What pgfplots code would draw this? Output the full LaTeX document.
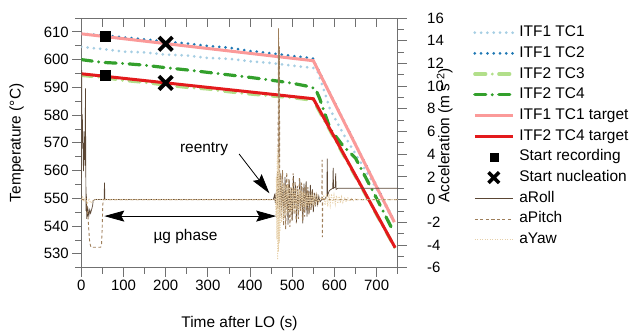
\documentclass[border=0pt]{standalone}
\usepackage{fontspec}
\setmainfont{Liberation Sans}
\usepackage{pgfplots}
\pgfplotsset{compat=1.18}
\usetikzlibrary{arrows.meta}
\definecolor{lblue}{HTML}{A6CEE3}
\definecolor{dblue}{HTML}{1F78B4}
\definecolor{lgreen}{HTML}{B2DF8A}
\definecolor{dgreen}{HTML}{33A02C}
\definecolor{lpink}{HTML}{FB9A99}
\definecolor{dred}{HTML}{E31A1C}
\definecolor{roll}{HTML}{5B4634}
\definecolor{pitch}{HTML}{9E7E5A}
\definecolor{yaw}{HTML}{E6CFA8}
\definecolor{axisgray}{HTML}{707070}
\tikzset{
  dotline/.style={line width=3bp, dash pattern=on 0bp off 6.3bp, line cap=round},
  dashdotline/.style={line width=3.2bp, dash pattern=on 11bp off 6.5bp on 0bp off 6.5bp, line cap=round},
  targetline/.style={line width=3bp},
}
\begin{document}
\begin{tikzpicture}
\pgfplotsset{
  every axis/.append style={
    scale only axis, width=316.4bp, height=249.7bp, at={(0,0)}, anchor=south west,
    xmin=0, xmax=750,
    label style={font=\fontsize{15.5}{18}\selectfont},
    /pgf/number format/assume math mode=true,
    major tick length=9bp, minor tick length=6bp,
    every tick/.style={axisgray, line width=0.8bp},
    axis line style={axisgray, line width=0.8bp},
  }
}
\begin{axis}[
  ymin=525, ymax=615,
  tick label style={font=\fontsize{15}{18}\selectfont, text=black},
  xtick={0,100,...,700}, minor xtick={50,150,...,750},
  ytick={530,540,...,610}, minor ytick={525,535,...,615},
  xtick pos=left, ytick pos=left, tick align=outside,
  xlabel={Time after LO (s)}, ylabel={Temperature (°C)},
  xlabel style={at={(rel axis cs:0.5,-0.2407)}, anchor=base},
  ylabel style={at={(rel axis cs:-0.2042,0.5)}, anchor=center},
]
% ITF1 TC1
\addplot[lblue, dotline] coordinates {(0,604.6)(50,603.8)(100,602.9)(150,602.6)(200,601.8)(250,601.5)(300,600.6)(350,600.3)(400,599.4)(450,598.8)(500,597.8)(550,597)(560,595.8)(575,589)(590,582)(620,573.5)(650,566)(700,553.5)(742,541.2)};
% ITF1 TC2
\addplot[dblue, dotline] coordinates {(0,609.3)(50,608.8)(100,608)(150,607.3)(200,606.5)(250,605.8)(300,604.9)(350,604.3)(400,603.1)(450,602.3)(500,601.3)(540,600.6)(550,600.3)(556,598)(742,541.6)};
% ITF2 TC3
\addplot[lgreen, dashdotline] coordinates {(0,594.3)(50,593.6)(100,592.5)(150,591.8)(200,590.8)(250,590)(300,589.4)(350,588.4)(400,587.6)(450,586.9)(500,586.3)(540,585.5)(550,585.4)(560,582.5)(744,532)};
% ITF2 TC4
\addplot[dgreen, dashdotline] coordinates {(0,600)(50,599)(100,598.6)(150,598)(200,597.1)(250,596.3)(300,595.4)(350,594.5)(400,593.6)(450,592.6)(500,591.5)(540,590.3)(555,589.5)(565,586)(590,575)(620,569)(650,564.5)(700,550)(739,538.3)};
% targets
\addplot[lpink, targetline] coordinates {(0,609.3)(550,599.6)(742,541.4)};
\addplot[dred, targetline] coordinates {(0,594.9)(550,585.9)(744,532.2)};
% markers
\addplot[only marks, mark=square*, mark size=5bp, black] coordinates {(56,608.4)(56,594.3)};
\addplot[only marks, mark=x, mark size=9.5bp, black, mark options={line width=3.8bp}] coordinates {(200,605.7)(200,591.6)};
% annotations
\node[font=\fontsize{15.5}{18}\selectfont] at (axis cs:291,567.8) {reentry};
\draw[black, line width=0.8bp, -{Stealth[length=20bp,width=11bp,inset=3bp]}] (axis cs:374,566) -- (axis cs:446,551.8);
\draw[black, line width=0.8bp, {Stealth[length=20bp,width=11bp,inset=3bp]}-{Stealth[length=20bp,width=11bp,inset=3bp]}] (axis cs:54.5,543.6) -- (axis cs:462,543.6);
\node[font=\fontsize{15.5}{18}\selectfont] at (axis cs:247,536.2) {µg phase};
\end{axis}
\begin{axis}[
  ymin=-6, ymax=16,
  axis x line*=top, axis y line*=right,
  axis line style={-},
  xtick={0,50,...,750}, xticklabels={},
  xtick align=inside, ytick align=outside,
  ytick={-6,-4,...,16}, minor ytick={-5,-3,...,15},
  yticklabel style={font=\fontsize{15}{18}\selectfont, text=black, anchor=west, xshift=17bp},
  ylabel={Acceleration (m s\textsuperscript{-2})},
  every axis y label/.style={at={(rel axis cs:1.1485,0.53)}, anchor=center, rotate=90, font=\fontsize{15.5}{18}\selectfont},
  legend style={at={(1.238,0.97)}, anchor=north west, draw=none, fill=none, inner sep=0pt,
    row sep=6.7bp, column sep=5bp, font=\fontsize{15.5}{18}\selectfont,
    nodes={inner sep=0pt, text height=11bp, text depth=3bp}},
  legend cell align=left,
  legend image code/.code={\draw[mark repeat=2,mark phase=2,#1] plot coordinates {(0bp,0bp) (19bp,0bp) (38bp,0bp)};},
]
\addlegendimage{lblue, dotline}
\addlegendentry{ITF1 TC1}
\addlegendimage{dblue, dotline}
\addlegendentry{ITF1 TC2}
\addlegendimage{lgreen, dashdotline}
\addlegendentry{ITF2 TC3}
\addlegendimage{dgreen, dashdotline}
\addlegendentry{ITF2 TC4}
\addlegendimage{lpink, targetline}
\addlegendentry{ITF1 TC1 target}
\addlegendimage{dred, targetline}
\addlegendentry{ITF2 TC4 target}
\addlegendimage{only marks, mark=square*, mark size=4bp, black}
\addlegendentry{Start recording}
\addlegendimage{only marks, mark=x, mark size=7.5bp, black, mark options={line width=3.5bp}}
\addlegendentry{Start nucleation}
% aRoll
\addplot[roll, line width=0.7bp] coordinates {(0,0)(0.5,4)(1,11.4)(1.6,5.4)(2.5,7.5)(3.2,4.5)(4,6)(5,2.5)(6,5)(7,3.5)(8,6)(9,3)(9.8,9.8)(10.5,4)(11.2,-1)(12,0.5)(12.8,-1.7)(14,-0.6)(15,-1.5)(16,-0.9)(18,-1.4)(20,-0.9)(22,-1.2)(25,-0.8)(27,-0.5)(28,-0.1)(32,0)(54,0)(55,1.5)(56,0)(455,0)(458,0.4)(460,-0.3)(463,0.9)(465,-0.5)(468,1.6)(470,-0.8)(473,2.3)(475,-1.0)(478,1.5)(480,-1.6)(483,2.0)(485,-0.9)(488,1.2)(490,-2.2)(493,1.7)(495,-1.1)(498,1.0)(500,-1.8)(503,2.1)(505,-0.8)(508,1.3)(510,-2.0)(513,0.9)(515,-1.3)(518,1.8)(520,-1.0)(523,1.1)(525,-2.1)(528,1.4)(530,-0.9)(533,1.6)(535,-1.5)(538,0.8)(540,-1.2)(543,1.3)(545,-0.7)(548,0.9)(550,-1.1)(553,0.6)(555,-0.6)(558,0.5)(560,-0.4)(563,0.3)(566,-0.2)(570,0)(578,0.1)(582,0.3)(583,3.6)(584,0.4)(588,0.8)(592,0.9)(596,1)(597,2.8)(598,1)(602,1.1)(603,2.3)(604,0.9)(608,1)(750,1)};
\addlegendentry{aRoll}
% aPitch
\addplot[pitch, line width=0.9bp, dash pattern=on 3bp off 2.5bp] coordinates {(0,0)(12,0)(14,-0.8)(16,-1.6)(18,-2.8)(20,-3.8)(23,-4.2)(46,-4.2)(48,-3.9)(49.5,-2.5)(51,-0.4)(53,0)(460,0)(462,0.6)(463,-1.2)(465,2.5)(466,-0.8)(467.5,15.1)(468.5,1)(469.5,13.5)(470.5,-1.5)(472,2.2)(474.5,-1.6)(477,2.6)(479.5,-2.3)(482,1.4)(484.5,-2.6)(487,2.4)(489.5,-1.2)(492,1.8)(494.5,-2.4)(497,1.1)(499.5,-1.9)(502,2.3)(504.5,-1.3)(507,1.6)(509.5,-2.1)(512,1.2)(514.5,-1.7)(517,2.0)(519.5,-1.0)(522,1.5)(524.5,-1.9)(527,1.0)(529.5,-1.5)(532,1.3)(534.5,-1.0)(537,1.1)(539.5,-1.3)(542,0.7)(544.5,-1.0)(547,0.8)(549.5,-0.7)(552,0.6)(554.5,-0.5)(557,0.4)(560,-0.3)(565,0)(570,0)(571,3.5)(571.6,-3.3)(572.3,0)(600,0)(750,0)};
\addlegendentry{aPitch}
% aYaw
\addplot[yaw, line width=0.9bp, dash pattern=on 1bp off 1.5bp] coordinates {(0,0)(3,0.3)(6,-0.2)(10,0.2)(14,-0.4)(18,0.1)(22,-0.3)(30,0)(460,0)(461.5,-1.5)(462.5,2)(463.5,-3.5)(464.5,4.7)(465.5,-5.3)(466.5,4)(467.5,-4.6)(468.5,3.2)(469.5,-3.8)(470.5,2.5)(471.5,-2.8)(473,1.8)(475,-2)(477,1.5)(479,-1.7)(481,1.4)(483,-1.5)(485,1.2)(487,-1.4)(489,1.3)(491,-1.2)(493,1.1)(495,-1.3)(497,1.0)(499,-1.1)(501,1.2)(503,-1.0)(505,0.9)(507,-1.1)(509,1.0)(511,-0.9)(513,0.8)(515,-1.0)(517,0.9)(519,-0.8)(521,0.8)(523,-0.9)(525,0.7)(527,-0.8)(529,0.7)(531,-0.7)(533,0.6)(535,-0.7)(537,0.6)(539,-0.6)(541,0.5)(543,-0.6)(545,0.5)(547,-0.5)(549,0.4)(551,-0.5)(553,0.4)(556,-0.4)(559,0.3)(562,-0.3)(565,0.2)(570,0)(575,0.4)(578,-0.5)(581,0.5)(584,-0.6)(587,0.5)(590,-0.5)(593,0.5)(596,-0.4)(599,0.4)(602,-0.4)(605,0.35)(608,-0.35)(611,0.3)(614,-0.3)(617,0.25)(620,-0.25)(624,0.2)(628,-0.2)(632,0.15)(636,-0.15)(640,0.1)(645,-0.1)(650,0.05)(660,0)(750,0)};
\addlegendentry{aYaw}
\end{axis}
\pgfresetboundingbox
\path[use as bounding box] (-81.3bp,-63.3bp) rectangle (548.7bp,267.7bp);
\end{tikzpicture}
\end{document}
